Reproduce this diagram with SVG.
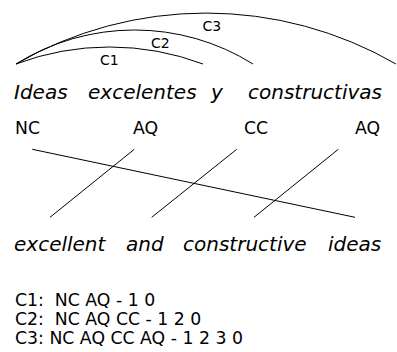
<svg xmlns="http://www.w3.org/2000/svg" width="397" height="352" viewBox="0 0 397 352">
<style>
text{font-family:"DejaVu Sans",sans-serif;fill:#000}
.s{font-size:20px;font-style:italic}
.t{font-size:17.3px}
.c{font-size:14px}
.l{font-size:17.3px;white-space:pre}
path,line{fill:none;stroke:#000;stroke-width:1}
</style>
<rect width="397" height="352" fill="#fff"/>
<g id="arcs">
<path d="M16,64 A265.6,265.6 0 0 1 203,64"/>
<path d="M16,64 A223.5,223.5 0 0 1 253,64"/>
<path d="M16,64 A380,380 0 0 1 396,64"/>
<text class="c" x="100" y="65">C1</text>
<text class="c" x="151" y="48">C2</text>
<text class="c" x="202.5" y="30.5">C3</text>
</g>
<g id="source">
<text class="s" x="14" y="98.7">Ideas</text>
<text class="s" x="88" y="98.7">excelentes</text>
<text class="s" x="211" y="98.7">y</text>
<text class="s" x="248" y="98.7">constructivas</text>
</g>
<g id="tags">
<text class="t" x="15" y="133.5">NC</text>
<text class="t" x="133" y="133.5">AQ</text>
<text class="t" x="244" y="133.5">CC</text>
<text class="t" x="355" y="133.5">AQ</text>
</g>
<g id="connectors">
<line x1="32.3" y1="149.3" x2="355" y2="217.3"/>
<line x1="134.3" y1="149.3" x2="50" y2="217.3"/>
<line x1="236.7" y1="149.3" x2="151.7" y2="217.3"/>
<line x1="338.3" y1="149.3" x2="254" y2="217.3"/>
</g>
<g id="target">
<text class="s" x="14" y="251">excellent</text>
<text class="s" x="126" y="251">and</text>
<text class="s" x="183" y="251">constructive</text>
<text class="s" x="328" y="251">ideas</text>
</g>
<g id="legend">
<text class="l" x="15" y="306" xml:space="preserve">C1:  NC AQ - 1 0</text>
<text class="l" x="15" y="325" xml:space="preserve">C2:  NC AQ CC - 1 2 0</text>
<text class="l" x="15" y="344">C3: NC AQ CC AQ - 1 2 3 0</text>
</g>
</svg>
